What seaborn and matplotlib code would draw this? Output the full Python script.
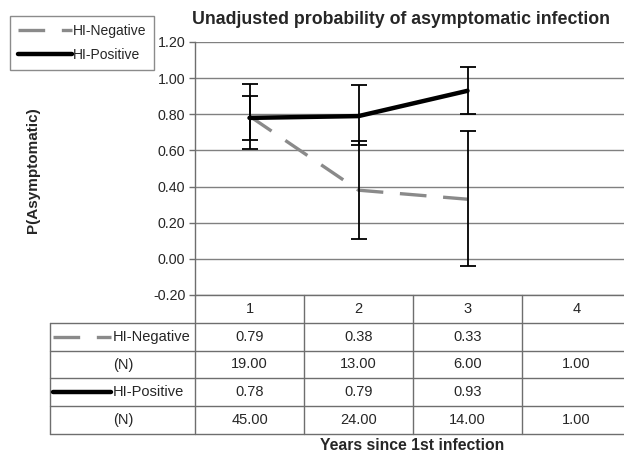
import matplotlib
matplotlib.use("Agg")
import matplotlib.pyplot as plt
from matplotlib.lines import Line2D
import seaborn as sns
import pandas as pd
import numpy as np

# ---------------- data ----------------
years = [1, 2, 3]
neg_p = [0.79, 0.38, 0.33]
neg_lo = [0.61, 0.11, -0.04]
neg_hi = [0.97, 0.65, 0.71]
pos_p = [0.78, 0.79, 0.93]
pos_lo = [0.66, 0.63, 0.80]
pos_hi = [0.90, 0.96, 1.06]
columns = ["1", "2", "3", "4"]
neg_vals = ["0.79", "0.38", "0.33", ""]
neg_n = ["19.00", "13.00", "6.00", "1.00"]
pos_vals = ["0.78", "0.79", "0.93", ""]
pos_n = ["45.00", "24.00", "14.00", "1.00"]
yticks = [-0.20, 0.00, 0.20, 0.40, 0.60, 0.80, 1.00, 1.20]

sns.set_style("white")
plt.rcParams["font.family"] = ["Liberation Sans", "DejaVu Sans"]

W, H = 624, 455
fig = plt.figure(figsize=(W / 100, H / 100), dpi=100)

NEG_COLOR = "#8a8a8a"
NEG_DASH = (8, 5)
NEG_LW = 2.4
POS_LW = 3.2
LINE_GRAY = "#6e6e6e"

x_left_px, x_right_px = 195, 624
col_w = 109.0
xmin = 0.5
xmax = 0.5 + (x_right_px - x_left_px) / col_w

ax = fig.add_axes([x_left_px / W, (H - 295) / H, (x_right_px - x_left_px) / W, (295 - 42) / H])
ax.set_xlim(xmin, xmax)
ax.set_ylim(-0.2, 1.2)

df_neg = pd.DataFrame({"year": years, "p": neg_p})
df_pos = pd.DataFrame({"year": years, "p": pos_p})

for y in yticks:
    ax.axhline(y, color="#808080", lw=1.0, zorder=0)

sns.lineplot(data=df_neg, x="year", y="p", ax=ax, color=NEG_COLOR, lw=NEG_LW,
             dashes=False, zorder=3)
ax.lines[-1].set_dashes(NEG_DASH)
sns.lineplot(data=df_pos, x="year", y="p", ax=ax, color="black", lw=POS_LW, zorder=3)

neg_arr = np.array(neg_p)
pos_arr = np.array(pos_p)
ax.errorbar(years, neg_p, yerr=[neg_arr - np.array(neg_lo), np.array(neg_hi) - neg_arr],
            fmt="none", ecolor="black", elinewidth=1.3, capsize=5.5, capthick=1.3, zorder=4)
ax.errorbar(years, pos_p, yerr=[pos_arr - np.array(pos_lo), np.array(pos_hi) - pos_arr],
            fmt="none", ecolor="black", elinewidth=1.3, capsize=5.5, capthick=1.3, zorder=4)

ax.set_yticks(yticks)
ax.set_yticklabels([f"{v:.2f}" for v in yticks], fontsize=10.3)
ax.set_xticks([])
ax.set_xlabel("")
ax.set_ylabel("")
for s in ["top", "right", "bottom"]:
    ax.spines[s].set_visible(False)
ax.spines["left"].set_color(LINE_GRAY)
ax.spines["left"].set_linewidth(1.0)
ax.tick_params(axis="y", direction="out", length=4, width=1, color=LINE_GRAY, pad=3, left=True)

# ---------------- texts ----------------
fig.text(401 / W, 1 - 20 / H, "Unadjusted probability of asymptomatic infection",
         fontsize=12.8, fontweight="bold", ha="center", va="center")
fig.text(33 / W, 1 - 170 / H, "P(Asymptomatic)", fontsize=11, fontweight="bold",
         rotation=90, ha="center", va="center")
fig.text(412 / W, 1 - 446 / H, "Years since 1st infection", fontsize=11.3,
         fontweight="bold", ha="center", va="center")

# ---------------- legend box ----------------
handles = [Line2D([0], [0], color=NEG_COLOR, lw=NEG_LW, dashes=NEG_DASH),
           Line2D([0], [0], color="black", lw=POS_LW)]
leg = fig.legend(handles, ["HI-Negative", "HI-Positive"], loc="upper left",
                 bbox_to_anchor=(10 / W, 1 - 16 / H), frameon=True, fancybox=False,
                 fontsize=10, handlelength=3.9, handletextpad=0.1, borderpad=0.55,
                 labelspacing=0.76, borderaxespad=0)
leg.get_frame().set_edgecolor(LINE_GRAY)
leg.get_frame().set_linewidth(1.0)

# ---------------- data table ----------------
tab_left_px = 50
tab = fig.add_axes([tab_left_px / W, (H - 434) / H, (x_right_px - tab_left_px) / W, (434 - 295) / H])
tx0 = xmin - (x_left_px - tab_left_px) / col_w
tab.set_xlim(tx0, xmax)
tab.set_ylim(5, 0)
tab.axis("off")

lk = dict(color=LINE_GRAY, lw=1.0, clip_on=False)
tab.plot([xmin, xmax], [0, 0], **lk)
for r in range(1, 6):
    tab.plot([tx0, xmax], [r, r], **lk)
tab.plot([tx0, tx0], [1, 5], **lk)
for c in range(len(columns)):
    xb = xmin + c
    tab.plot([xb, xb], [0, 5], **lk)

fs = 10.5
for i, c in enumerate(columns):
    tab.text(i + 1, 0.5, c, ha="center", va="center", fontsize=fs)
rows = [neg_vals, neg_n, pos_vals, pos_n]
for r, vals in enumerate(rows):
    for i, v in enumerate(vals):
        tab.text(i + 1, r + 1.5, v, ha="center", va="center", fontsize=fs)

def px2x(px):
    return tx0 + (px - tab_left_px) / col_w

tab.plot([px2x(53), px2x(111)], [1.5, 1.5], color=NEG_COLOR, lw=NEG_LW, dashes=NEG_DASH,
         solid_capstyle="butt")
tab.text(px2x(113), 1.5, "HI-Negative", ha="left", va="center", fontsize=fs)
tab.text(px2x(123), 2.5, "(N)", ha="center", va="center", fontsize=fs)
tab.plot([px2x(53), px2x(111)], [3.5, 3.5], color="black", lw=POS_LW)
tab.text(px2x(113), 3.5, "HI-Positive", ha="left", va="center", fontsize=fs)
tab.text(px2x(123), 4.5, "(N)", ha="center", va="center", fontsize=fs)

fig.savefig("out.png", dpi=100)
